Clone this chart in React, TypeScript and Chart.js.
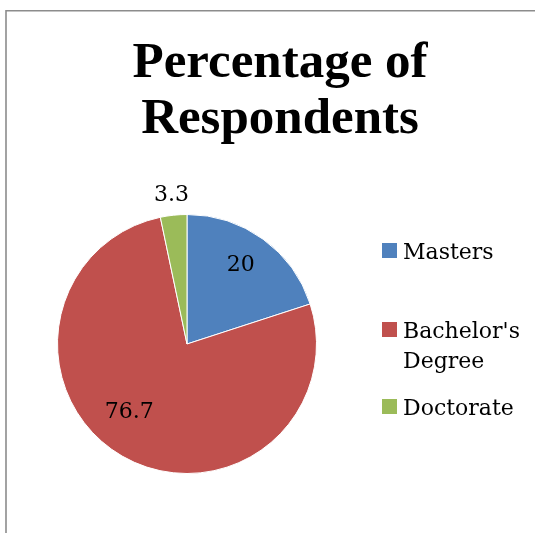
import React, { useEffect, useRef } from "react";
import { Chart, registerables } from "chart.js";

Chart.register(...registerables);

const TITLE_LINES = ["Percentage of", "Respondents"];
const CATEGORIES = ["Masters", "Bachelor's Degree", "Doctorate"];
const LEGEND_LINES = [["Masters"], ["Bachelor's", "Degree"], ["Doctorate"]];
const VALUES = [20, 76.7, 3.3];
const VALUE_LABELS = ["20", "76.7", "3.3"];
const COLORS = ["#4F81BD", "#C0504D", "#9BBB59"];

// label placement (radius factor and angle tweak in degrees)
const LABEL_RADIUS = [0.736, 0.69, 1.153];
const LABEL_ANGLE_TWEAK = [-1.6, 10.3, 0];

const REGULAR_FONT = "22px 'DejaVu Serif'";

const decorPlugin = {
  id: "decor",
  beforeDraw(chart: any) {
    const ctx = chart.ctx;
    ctx.save();
    ctx.strokeStyle = "#8c8c8c";
    ctx.lineWidth = 1.6;
    ctx.beginPath();
    ctx.moveTo(6, 540);
    ctx.lineTo(6, 10.8);
    ctx.lineTo(540, 10.8);
    ctx.stroke();
    ctx.restore();
  },
  afterDraw(chart: any) {
    const ctx = chart.ctx;
    ctx.save();
    // title
    ctx.fillStyle = "#000";
    ctx.font = "bold 51px 'Liberation Serif'";
    ctx.textAlign = "center";
    ctx.textBaseline = "alphabetic";
    ctx.fillText(TITLE_LINES[0], 280, 77);
    ctx.fillText(TITLE_LINES[1], 280, 133);

    // data labels
    const meta = chart.getDatasetMeta(0);
    ctx.font = REGULAR_FONT;
    ctx.textBaseline = "middle";
    meta.data.forEach((arc: any, i: number) => {
      const p = arc.getProps(["x", "y", "startAngle", "endAngle", "outerRadius"], true);
      const mid = (p.startAngle + p.endAngle) / 2 + (LABEL_ANGLE_TWEAK[i] * Math.PI) / 180;
      const r = p.outerRadius * LABEL_RADIUS[i];
      ctx.fillText(VALUE_LABELS[i], p.x + Math.cos(mid) * r, p.y + Math.sin(mid) * r);
    });

    // legend
    ctx.textAlign = "left";
    ctx.textBaseline = "alphabetic";
    const legendX = 382;
    const itemTops = [243, 322, 399];
    LEGEND_LINES.forEach((lines, i) => {
      ctx.fillStyle = COLORS[i];
      ctx.fillRect(legendX, itemTops[i], 15, 15);
      ctx.fillStyle = "#000";
      lines.forEach((line, j) => {
        ctx.fillText(line, legendX + 21, itemTops[i] + 16 + j * 30);
      });
    });
    ctx.restore();
  },
};

export default function App() {
  const ref = useRef<HTMLCanvasElement | null>(null);
  useEffect(() => {
    if (!ref.current) return;
    const chart = new Chart(ref.current, {
      type: "pie",
      data: {
        labels: CATEGORIES,
        datasets: [
          {
            data: VALUES,
            backgroundColor: COLORS,
            borderColor: "#ffffff",
            borderWidth: 1,
          },
        ],
      },
      options: {
        animation: false,
        responsive: true,
        maintainAspectRatio: false,
        layout: { padding: { left: 57, top: 214, right: 218, bottom: 59 } },
        plugins: {
          legend: { display: false },
          title: { display: false },
          tooltip: { enabled: false },
        },
      },
      plugins: [decorPlugin],
    });
    return () => chart.destroy();
  }, []);
  return (
    <div style={{ position: "fixed", left: 0, top: 0, width: 535, height: 533, background: "#fff" }}>
      <canvas ref={ref} />
    </div>
  );
}
